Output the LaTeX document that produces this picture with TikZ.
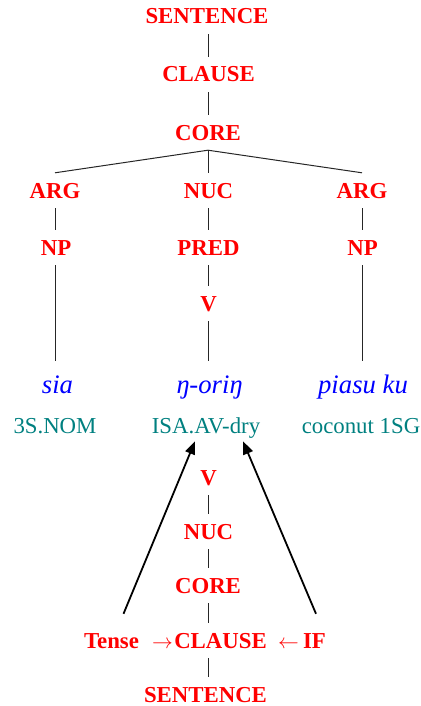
\documentclass[tikz,border=0pt]{standalone}
\usepackage{fontspec}
\setmainfont{Liberation Serif}
\usetikzlibrary{arrows.meta}
\definecolor{lblred}{RGB}{255,0,0}
\definecolor{wordblue}{RGB}{0,0,255}
\definecolor{glossteal}{RGB}{0,128,128}
\begin{document}
\begin{tikzpicture}[x=1pt,y=-1pt,
  every node/.style={anchor=base,inner xsep=0pt,inner ysep=10pt,text depth=0pt,
    font=\fontsize{22.8}{27}\selectfont},
  lbl/.style={text=lblred,font=\fontsize{22.8}{27}\selectfont\bfseries,text height=15pt},
  word/.style={text=wordblue,font=\fontsize{26.7}{30}\selectfont\itshape,text height=22pt},
  gloss/.style={text=glossteal,text height=15pt},
  tree/.style={line width=1pt,draw=black!85},
  pointer/.style={line width=1.8pt,-{Triangle[length=13pt,width=10pt]}}]
\useasboundingbox (0,0) rectangle (420,706);
% upper tree
\node[lbl] (s1) at (207,24) {SENTENCE};
\node[lbl] (c1) at (208.5,82) {CLAUSE};
\node[lbl] (co1) at (208,140) {CORE};
\node[lbl] (argl) at (55,198) {ARG};
\node[lbl] (nuc1) at (208.5,198) {NUC};
\node[lbl] (argr) at (362,198) {ARG};
\node[lbl] (npl) at (56,255) {NP};
\node[lbl] (pred) at (208.5,255) {PRED};
\node[lbl] (npr) at (362.5,255) {NP};
\node[lbl] (v1) at (208.5,311) {V};
% words
\node[word] (sia) at (57.5,393) {sia};
\node[word] (oring) at (209.5,393) {ŋ-oriŋ};
\node[word] (piasu) at (363,393) {piasu ku};
% glosses
\node[gloss] (g1) at (55,433) {3S.NOM};
\node[gloss] (g2) at (206,433) {ISA.AV-dry};
\node[gloss] (g3) at (361,433) {coconut 1SG};
% lower tree
\node[lbl] (v2) at (208.5,485) {V};
\node[lbl] (nuc2) at (208.5,539) {NUC};
\node[lbl] (co2) at (208,593) {CORE};
\node[lbl] (tense) at (111.5,648) {Tense};
\node[lbl] (ra) at (162.5,648) {$\rightarrow$};
\node[lbl] (c2) at (220.5,648) {CLAUSE};
\node[lbl] (la) at (288.5,648) {$\leftarrow$};
\node[lbl] (if) at (314.5,648) {IF};
\node[lbl] (s2) at (205.5,702) {SENTENCE};
% upper connectors
\draw[tree] (s1.south -| co1.south) -- (c1.north -| co1.south);
\draw[tree] (c1.south -| co1.south) -- (co1.south |- co1.north);
\draw[tree] (co1.south) -- (argl.north);
\draw[tree] (co1.south) -- (nuc1.north -| co1.south);
\draw[tree] (co1.south) -- (argr.north);
\draw[tree] (argl.south) -- (argl.south |- npl.north);
\draw[tree] (argr.south -| npr.north) -- (npr.north);
\draw[tree] (nuc1.south -| co1.south) -- (pred.north -| co1.south);
\draw[tree] (pred.south -| co1.south) -- (v1.north -| co1.south);
\draw[tree] (npl.south -| argl.south) -- (sia.north -| argl.south);
\draw[tree] (v1.south -| co1.south) -- (oring.north -| co1.south);
\draw[tree] (npr.south) -- (npr.south |- piasu.north);
% lower connectors
\draw[tree] (v2.south -| co1.south) -- (nuc2.north -| co1.south);
\draw[tree] (nuc2.south -| co1.south) -- (co2.north -| co1.south);
\draw[tree] (co2.south -| co1.south) -- (c2.north -| co1.south);
\draw[tree] (c2.south -| co1.south) -- (s2.north -| co1.south);
% pointer arrows
\draw[pointer] ([xshift=12pt,yshift=9pt]tense.north) -- ([xshift=-11pt,yshift=2pt]g2.south);
\draw[pointer] ([xshift=1.5pt,yshift=9pt]if.north) -- ([xshift=37pt,yshift=2pt]g2.south);
\end{tikzpicture}
\end{document}
